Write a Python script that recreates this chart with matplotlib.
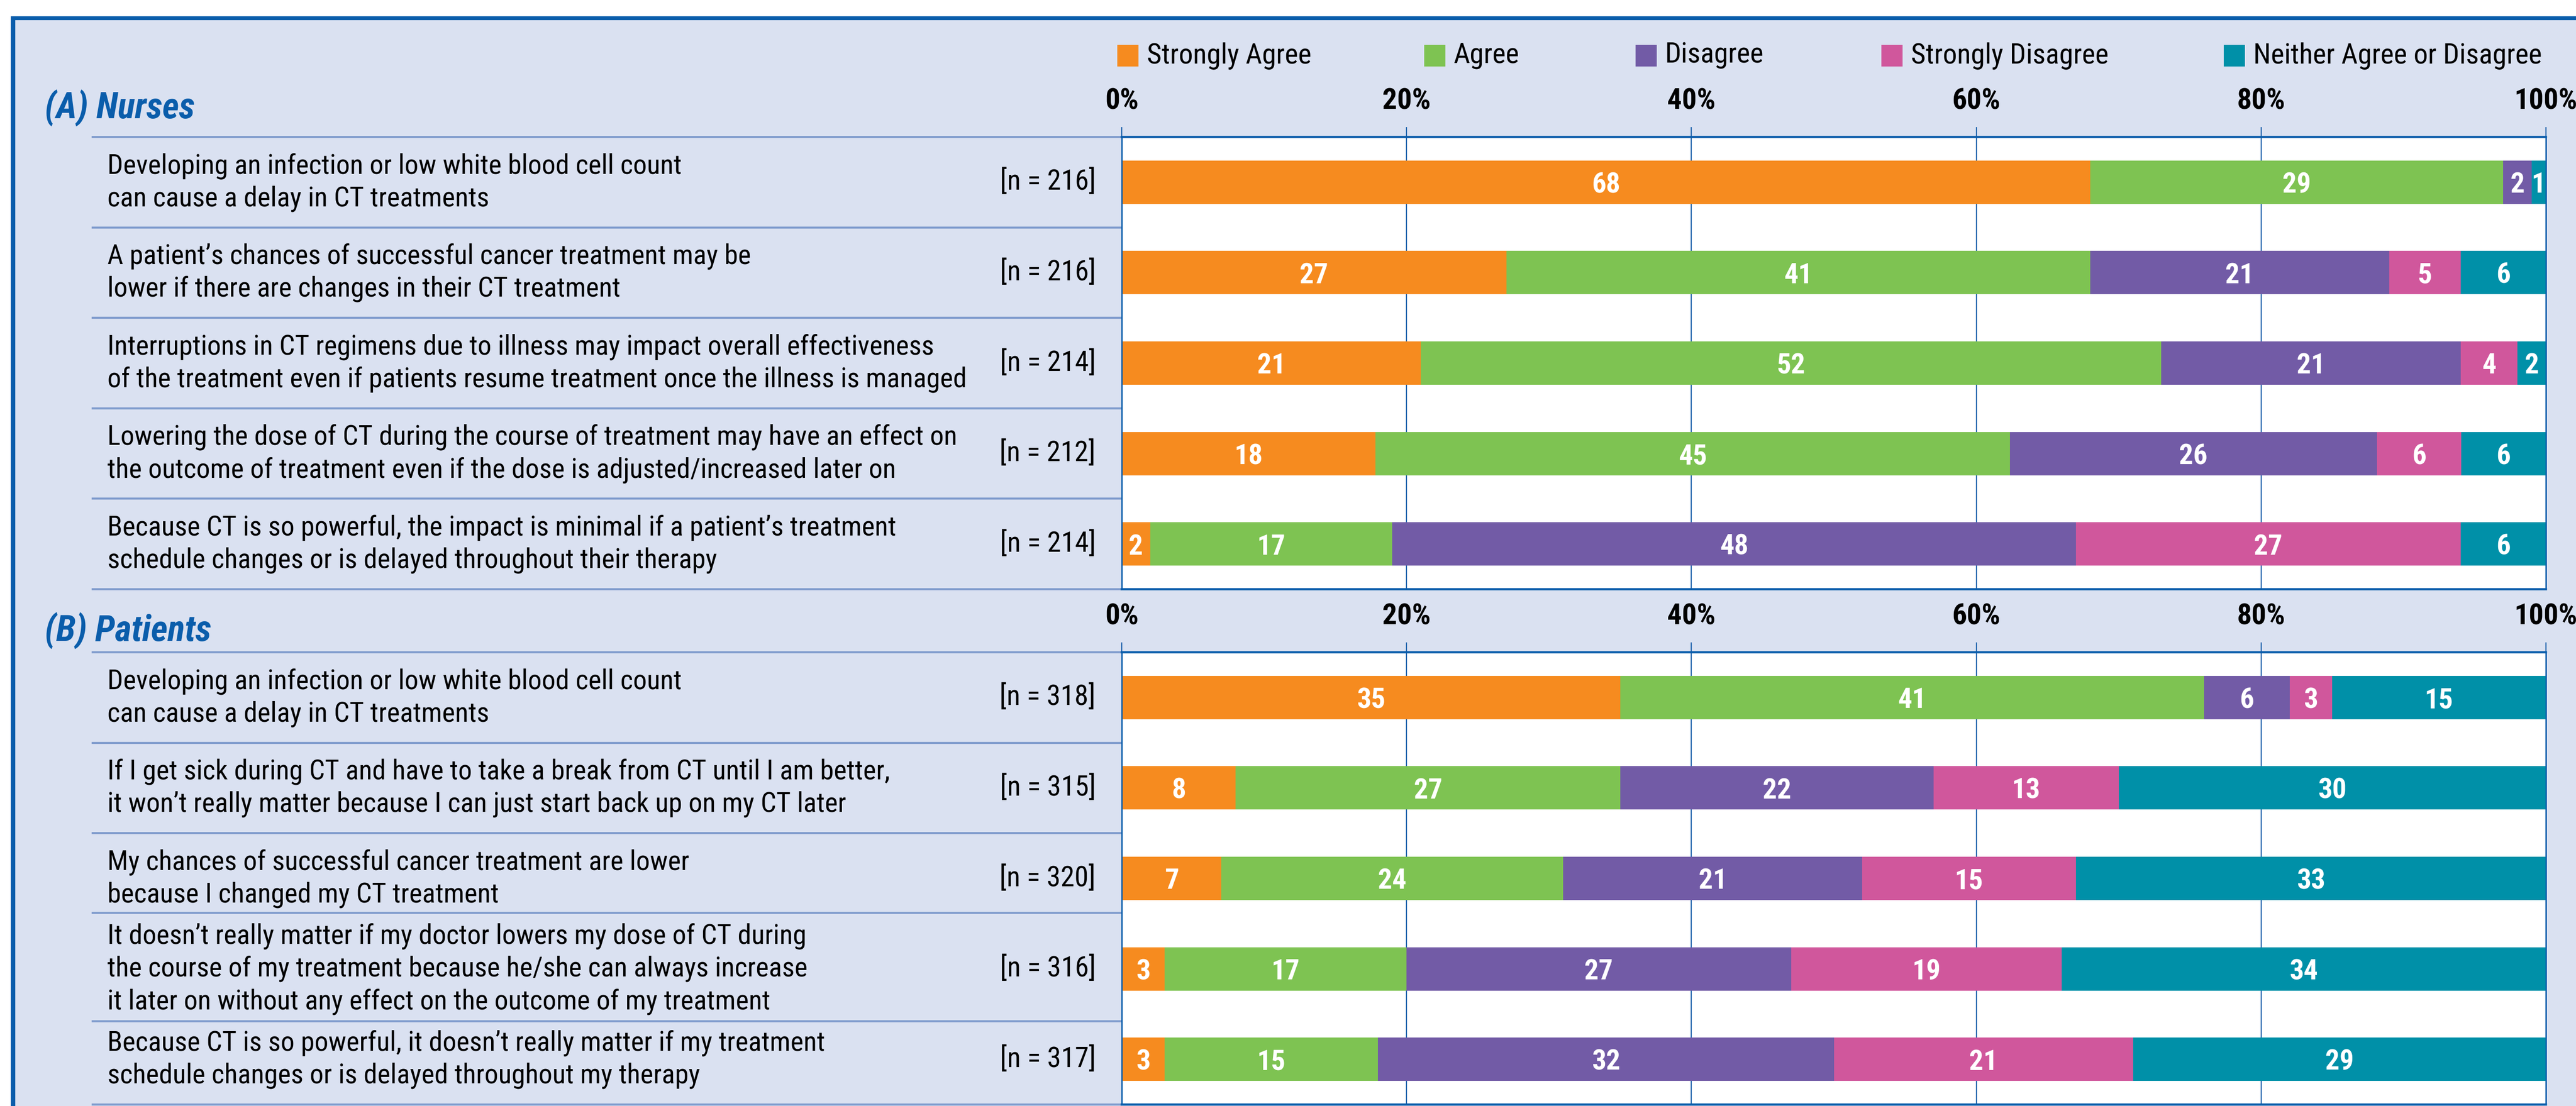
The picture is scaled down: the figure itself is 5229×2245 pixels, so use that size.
import numpy as np
import matplotlib
matplotlib.use('Agg')
import matplotlib.pyplot as plt
from matplotlib import font_manager
from matplotlib.patches import Rectangle
from matplotlib.transforms import blended_transform_factory

W, H = 5229, 2245
DPI = 200

# ---- data ----
categories = ['Strongly Agree', 'Agree', 'Disagree', 'Strongly Disagree',
              'Neither Agree or Disagree']

nurse_items = [
    'Developing an infection or low white blood cell count\ncan cause a delay in CT treatments',
    'A patient\u2019s chances of successful cancer treatment may be\nlower if there are changes in their CT treatment',
    'Interruptions in CT regimens due to illness may impact overall effectiveness\nof the treatment even if patients resume treatment once the illness is managed',
    'Lowering the dose of CT during the course of treatment may have an effect on\nthe outcome of treatment even if the dose is adjusted/increased later on',
    'Because CT is so powerful, the impact is minimal if a patient\u2019s treatment\nschedule changes or is delayed throughout their therapy',
]
nurse_n = [216, 216, 214, 212, 214]
nurse_strongly_agree = [68, 27, 21, 18, 2]
nurse_agree = [29, 41, 52, 45, 17]
nurse_disagree = [2, 21, 21, 26, 48]
nurse_strongly_disagree = [0, 5, 4, 6, 27]
nurse_neither = [1, 6, 2, 6, 6]

patient_items = [
    'Developing an infection or low white blood cell count\ncan cause a delay in CT treatments',
    'If I get sick during CT and have to take a break from CT until I am better,\nit won\u2019t really matter because I can just start back up on my CT later',
    'My chances of successful cancer treatment are lower\nbecause I changed my CT treatment',
    'It doesn\u2019t really matter if my doctor lowers my dose of CT during\nthe course of my treatment because he/she can always increase\nit later on without any effect on the outcome of my treatment',
    'Because CT is so powerful, it doesn\u2019t really matter if my treatment\nschedule changes or is delayed throughout my therapy',
]
patient_n = [318, 315, 320, 316, 317]
patient_strongly_agree = [35, 8, 7, 3, 3]
patient_agree = [41, 27, 24, 17, 15]
patient_disagree = [6, 22, 21, 27, 32]
patient_strongly_disagree = [3, 13, 15, 19, 21]
patient_neither = [15, 30, 33, 34, 29]

ticks = [0, 20, 40, 60, 80, 100]

# ---- style ----
colors = ['#F68B1F', '#7EC352', '#725BA6', '#D0579C', '#0090A8']
BLUE = '#0A5DAB'
GRID = '#1F63AC'
LAV = '#DAE1F1'
SEP = '#7F9BCD'

# pick a narrow sans if one is installed
names = {(f.name, f.stretch) for f in font_manager.fontManager.ttflist}
fam_names = {n for n, s in names}
STRETCH = 'normal'
if 'Liberation Sans Narrow' in fam_names:
    FONT = 'Liberation Sans Narrow'
elif 'Roboto Condensed' in fam_names:
    FONT = 'Roboto Condensed'
elif ('DejaVu Sans', 'condensed') in names:
    FONT = 'DejaVu Sans'
    STRETCH = 'condensed'
else:
    FONT = 'Liberation Sans'
plt.rcParams['font.family'] = [FONT, 'DejaVu Sans']
plt.rcParams['font.stretch'] = STRETCH

fig = plt.figure(figsize=(W / DPI, H / DPI), dpi=DPI)
renderer = fig.canvas.get_renderer()


def fit_size(lines, nominal, target, **kw):
    widths = []
    for s in lines:
        t = fig.text(0, 0, s, fontsize=nominal, **kw)
        widths.append(t.get_window_extent(renderer).width)
        t.remove()
    return nominal * min(1.0, target / max(widths))


STMT_FS = fit_size(['of the treatment even if patients resume treatment once the illness is managed'], 21, 1745)
N_FS = fit_size(['[n = 216]'], 21, 195)
LEG_FS = fit_size(['Neither Agree or Disagree'], 23, 585)
HEAD_FS = fit_size(['(A) Nurses'], 27, 305, fontweight='bold', fontstyle='italic')
TICK_FS = fit_size(['100%'], 23, 128, fontweight='bold')
VAL_FS = fit_size(['29'], 23, 58, fontweight='bold')

# ---- background frame ----
bg = fig.add_axes([0, 0, 1, 1])
bg.set_xlim(0, W)
bg.set_ylim(H, 0)
bg.axis('off')
bg.add_patch(Rectangle((22, 33), W, H, facecolor=LAV, edgecolor='none'))
bg.add_patch(Rectangle((22, 33), W, 8, facecolor=BLUE, edgecolor='none'))
bg.add_patch(Rectangle((22, 33), 9, H, facecolor=BLUE, edgecolor='none'))

# legend
legend_x = [2268, 2891, 3320, 3819, 4514]
for lx, cat, c in zip(legend_x, categories, colors):
    bg.add_patch(Rectangle((lx, 91), 43, 44, facecolor=c, edgecolor='none'))
    bg.text(lx + 60, 113, cat, fontsize=LEG_FS, ha='left', va='center', color='black')


def px_axes(x0, y0, x1, y1):
    return fig.add_axes([x0 / W, 1 - y1 / H, (x1 - x0) / W, (y1 - y0) / H])


def draw_section(ax, items, ns, series, seps, header, header_y):
    vals = np.array(series, dtype=float)
    widths = vals / vals.sum(axis=0) * 100
    rows = np.arange(len(items)) + 0.5
    left = np.zeros(len(items))
    for k in range(len(categories)):
        ax.barh(rows, widths[k], left=left, height=0.48, color=colors[k], zorder=2)
        for r in range(len(items)):
            if vals[k, r] > 0:
                ax.text(left[r] + widths[k, r] / 2, rows[r], f'{int(vals[k, r])}',
                        ha='center', va='center_baseline', color='white',
                        fontweight='bold', fontsize=VAL_FS, zorder=3)
        left = left + widths[k]
    ax.set_xlim(0, 100)
    ax.set_ylim(len(items), 0)
    ax.set_facecolor('white')
    ax.set_yticks([])
    ax.xaxis.tick_top()
    ax.set_xticks(ticks)
    ax.set_xticklabels([f'{t}%' for t in ticks], fontweight='bold', fontsize=TICK_FS)
    ax.tick_params(axis='x', length=7.2, width=0.8, color=GRID, pad=9)
    ax.grid(axis='x', color=GRID, lw=0.8, zorder=1)
    ax.set_axisbelow(True)
    for side in ['top', 'bottom']:
        ax.spines[side].set_color(BLUE)
        ax.spines[side].set_linewidth(1.6)
    for side in ['left', 'right']:
        ax.spines[side].set_color(BLUE)
        ax.spines[side].set_linewidth(1.0)

    tr = blended_transform_factory(bg.transData, ax.transData)
    for s in seps:
        bg.plot([186, 2277], [s, s], color=SEP, lw=1.5, transform=tr, solid_capstyle='butt')
    for r in range(len(items)):
        bg.text(218, rows[r], items[r], transform=tr, ha='left', va='center',
                fontsize=STMT_FS, linespacing=1.3, color='black')
        bg.text(2224, rows[r], f'[n = {ns[r]}]', transform=tr, ha='right', va='center',
                fontsize=N_FS, color='black')
    bg.text(91, header_y, header, ha='left', va='baseline', fontsize=HEAD_FS,
            fontweight='bold', fontstyle='italic', color=BLUE)


ax_a = px_axes(2277, 278, 5168, 1196)
draw_section(ax_a, nurse_items, nurse_n,
             [nurse_strongly_agree, nurse_agree, nurse_disagree,
              nurse_strongly_disagree, nurse_neither],
             [0, 1, 2, 3, 4, 5], '(A) Nurses', 240)

ax_b = px_axes(2277, 1324, 5168, 2242)
draw_section(ax_b, patient_items, patient_n,
             [patient_strongly_agree, patient_agree, patient_disagree,
              patient_strongly_disagree, patient_neither],
             [0, 1, 2, 2.88, 4.08, 5], '(B) Patients', 1301)

fig.savefig('out.png', dpi=DPI)
plt.close(fig)
